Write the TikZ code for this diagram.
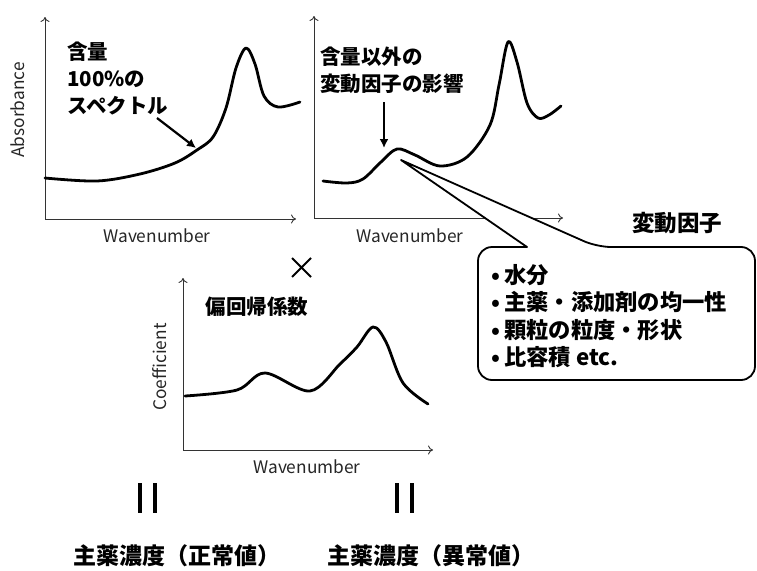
\documentclass[tikz,border=0pt]{standalone}
\usepackage{fontspec}
\setmainfont{Noto Sans CJK JP}
\newfontfamily\jp{Noto Sans CJK JP}
\usetikzlibrary{arrows.meta}
\tikzset{
  axis/.style={draw=black!80, line width=0.9pt, -{To[length=5pt,width=9pt]}},
  curve/.style={draw=black, line width=2.8pt, line join=round, line cap=round},
  axlabel/.style={font=\fontsize{17.3}{19}\selectfont, text=black!85, inner sep=0pt},
  jplabel/.style={font=\jp\bfseries\fontsize{20.5}{27}\selectfont, align=left, inner sep=0pt},
  ptr/.style={draw=black, line width=2.2pt, -{Latex[length=9pt,width=9pt]}},
  eqbar/.style={draw=black, line width=4.5pt},
}
\begin{document}
\begin{tikzpicture}[x=1pt,y=-1pt]
\useasboundingbox (0,0) rectangle (757,570);
% ---- chart 1 ----
\coordinate (o1) at (45,219);
\draw[axis] (o1) -- (45,17);
\draw[axis] (o1) -- (296,219);
\node[axlabel, rotate=90] (ab) at (18,110) {Absorbance};
\node[axlabel] (wn1) at (157,236) {Wavenumber};
\draw[curve] plot[smooth, tension=0.55] coordinates {(45,178) (97,181) (140,174) (175,163) (197,150) (213,137) (226,108) (236,68) (246,48) (255,64) (264,96) (278,107) (300,102)};
\node[jplabel, anchor=north west] (t1) at (67,42) {含量\\100\%の\\スペクトル};
\coordinate (p1) at (196,148);
\draw[ptr] (157,118) -- (p1);
% ---- chart 2 ----
\coordinate (o2) at (314,218);
\draw[axis] (o2) -- (314,16);
\draw[axis] (o2) -- (563,218);
\node[axlabel] (wn2) at (410,236) {Wavenumber};
\draw[curve] plot[smooth, tension=0.55] coordinates {(323,181) (347,183) (363,179) (381,162) (397,149) (415,155) (440,166) (467,157) (490,125) (499,85) (508,42) (517,62) (527,103) (538,118) (549,115) (561,106)};
\node[jplabel, anchor=north west] (t2) at (320,47) {含量以外の\\変動因子の影響};
\coordinate (p2) at (384,148);
\draw[ptr] (384,102) -- (p2);
% ---- callout ----
\coordinate (apex) at (401,160);
\draw[line width=1.8pt, line join=round, fill=white] (apex) -- (527,247) [rounded corners=14] -- (478,247) -- (478,380) -- (755,380) -- (755,247) -- (597,247) [sharp corners] -- cycle;
\node[font=\jp\bfseries\fontsize{22.5}{24}\selectfont, inner sep=0pt] (hdr) at (677,223) {変動因子};
\node[font=\jp\bfseries\fontsize{22.3}{27.4}\selectfont, align=left, anchor=west, inner sep=0pt] (list) at (491,316) {•\hspace{4pt}水分\\•\hspace{4pt}主薬・添加剤の均一性\\•\hspace{4pt}顆粒の粒度・形状\\•\hspace{4pt}比容積 etc.};
% ---- times sign ----
\coordinate (xa) at (292,258);
\coordinate (xb) at (311,277);
\coordinate (xc) at (292,277);
\coordinate (xd) at (311,258);
\draw[line width=2pt] (xa) -- (xb) (xc) -- (xd);
% ---- chart 3 ----
\coordinate (o3) at (183,450);
\draw[axis] (o3) -- (183,278);
\draw[axis] (o3) -- (433,450);
\node[axlabel, rotate=90] (cf) at (160,367) {Coefficient};
\node[axlabel] (wn3) at (307,467) {Wavenumber};
\draw[curve] plot[smooth, tension=0.55] coordinates {(185,396) (237,390) (265,373) (310,391) (340,364) (357,347) (373,327) (386,342) (403,383) (428,404)};
\node[jplabel, anchor=center] (t3) at (257,307) {偏回帰係数};
% ---- equals ----
\coordinate (e1a) at (140,483); \coordinate (e1b) at (140,513);
\coordinate (e2a) at (155,483); \coordinate (e2b) at (155,513);
\coordinate (e3a) at (397,483); \coordinate (e3b) at (397,513);
\coordinate (e4a) at (412,483); \coordinate (e4b) at (412,513);
\draw[eqbar] (e1a) -- (e1b) (e2a) -- (e2b) (e3a) -- (e3b) (e4a) -- (e4b);
% ---- bottom labels ----
\node[font=\jp\bfseries\fontsize{23}{26}\selectfont, inner sep=0pt] (b1) at (177,556) {主薬濃度（正常値）};
\node[font=\jp\bfseries\fontsize{23}{26}\selectfont, inner sep=0pt] (b2) at (431,556) {主薬濃度（異常値）};
\end{tikzpicture}
\end{document}
